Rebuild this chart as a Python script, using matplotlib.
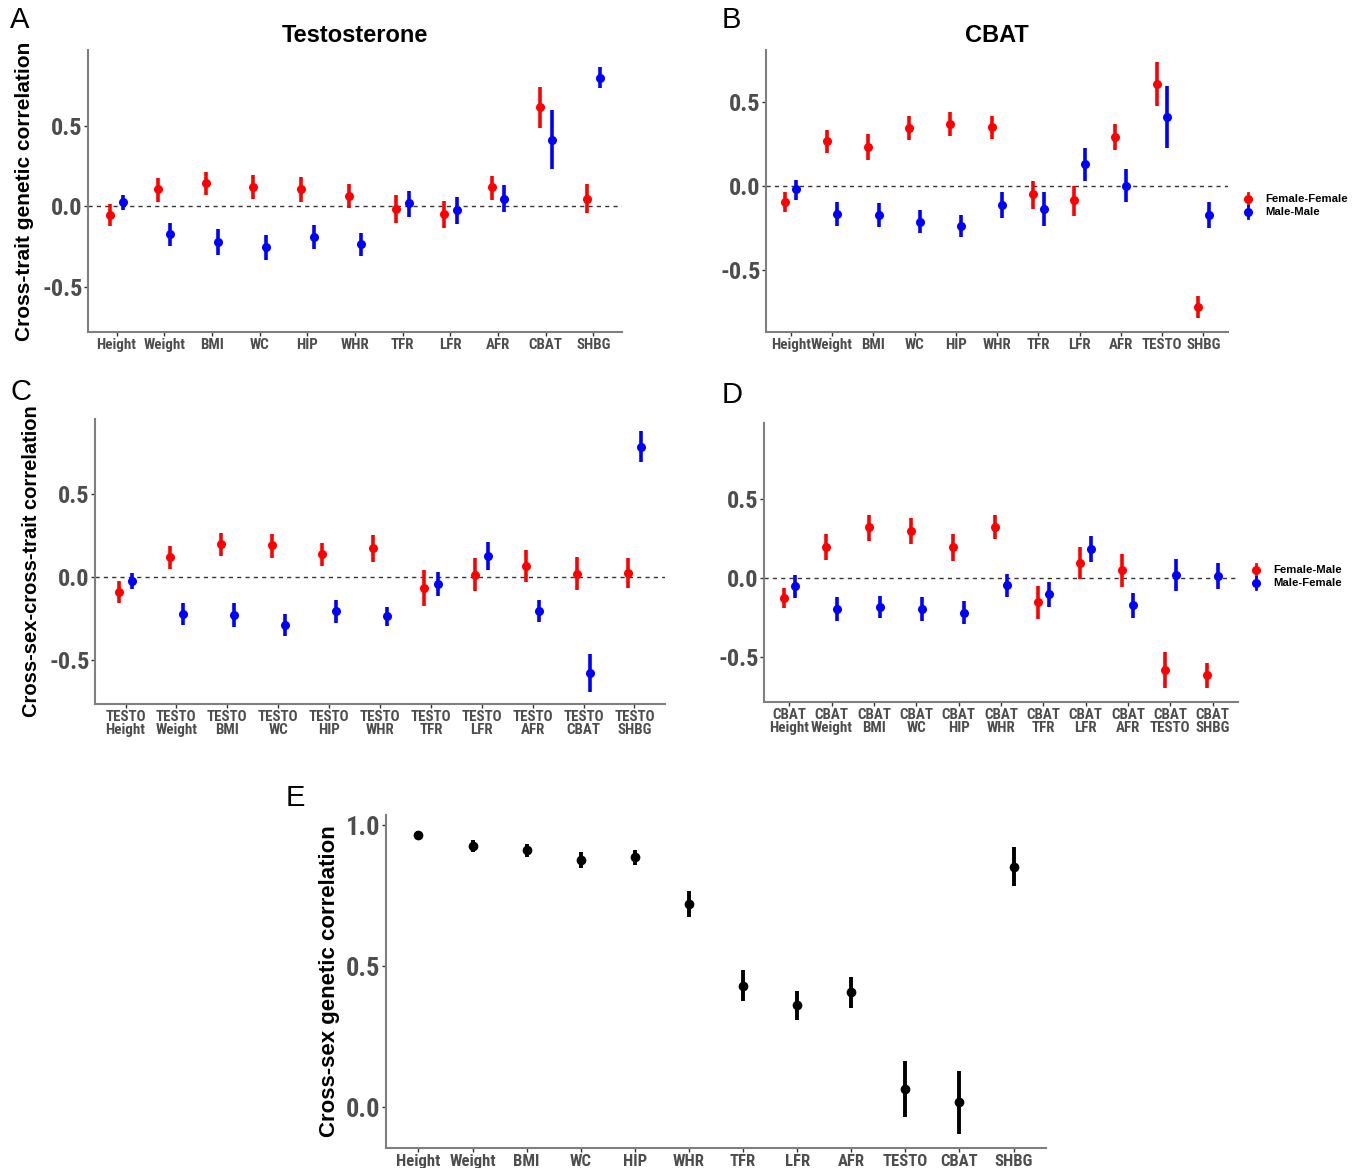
import matplotlib
matplotlib.use("Agg")
import matplotlib.pyplot as plt
from matplotlib.lines import Line2D
import numpy as np
import logging
logging.getLogger("matplotlib.font_manager").setLevel(logging.ERROR)

plt.rcParams["axes.unicode_minus"] = False

# ---------------- data ----------------
cats_A = ["Height", "Weight", "BMI", "WC", "HIP", "WHR", "TFR", "LFR", "AFR", "CBAT", "SHBG"]
A_ff = [-0.052, 0.105, 0.142, 0.121, 0.105, 0.063, -0.017, -0.050, 0.117, 0.615, 0.048]
A_ff_lo = [-0.123, 0.029, 0.071, 0.048, 0.029, -0.013, -0.103, -0.136, 0.042, 0.483, -0.042]
A_ff_hi = [0.013, 0.178, 0.211, 0.195, 0.180, 0.138, 0.069, 0.036, 0.190, 0.743, 0.136]
A_mm = [0.027, -0.174, -0.220, -0.253, -0.190, -0.236, 0.019, -0.023, 0.048, 0.414, 0.797]
A_mm_lo = [-0.021, -0.245, -0.303, -0.335, -0.268, -0.310, -0.065, -0.109, -0.036, 0.230, 0.732]
A_mm_hi = [0.073, -0.103, -0.140, -0.176, -0.113, -0.165, 0.098, 0.059, 0.134, 0.600, 0.862]

cats_B = ["Height", "Weight", "BMI", "WC", "HIP", "WHR", "TFR", "LFR", "AFR", "TESTO", "SHBG"]
B_ff = [-0.094, 0.268, 0.234, 0.346, 0.372, 0.352, -0.050, -0.086, 0.294, 0.612, -0.724]
B_ff_lo = [-0.158, 0.196, 0.156, 0.274, 0.300, 0.284, -0.136, -0.178, 0.216, 0.480, -0.792]
B_ff_hi = [-0.038, 0.336, 0.310, 0.420, 0.440, 0.420, 0.032, 0.000, 0.370, 0.744, -0.656]
B_mm = [-0.020, -0.166, -0.174, -0.214, -0.238, -0.112, -0.138, 0.130, 0.002, 0.414, -0.174]
B_mm_lo = [-0.084, -0.238, -0.246, -0.280, -0.308, -0.192, -0.238, 0.032, -0.096, 0.228, -0.252]
B_mm_hi = [0.038, -0.096, -0.102, -0.146, -0.172, -0.034, -0.038, 0.226, 0.102, 0.598, -0.096]

cats_C = ["TESTO\nHeight", "TESTO\nWeight", "TESTO\nBMI", "TESTO\nWC", "TESTO\nHIP", "TESTO\nWHR",
          "TESTO\nTFR", "TESTO\nLFR", "TESTO\nAFR", "TESTO\nCBAT", "TESTO\nSHBG"]
C_fm = [-0.088, 0.122, 0.199, 0.191, 0.139, 0.175, -0.062, 0.016, 0.068, 0.022, 0.028]
C_fm_lo = [-0.157, 0.052, 0.129, 0.118, 0.068, 0.094, -0.171, -0.086, -0.026, -0.080, -0.064]
C_fm_hi = [-0.024, 0.190, 0.269, 0.261, 0.207, 0.255, 0.046, 0.114, 0.161, 0.120, 0.118]
C_mf = [-0.020, -0.221, -0.227, -0.285, -0.203, -0.235, -0.038, 0.129, -0.203, -0.574, 0.785]
C_mf_lo = [-0.070, -0.287, -0.299, -0.353, -0.273, -0.295, -0.112, 0.044, -0.271, -0.689, 0.693]
C_mf_hi = [0.028, -0.157, -0.157, -0.219, -0.135, -0.177, 0.034, 0.211, -0.137, -0.460, 0.878]

cats_D = ["CBAT\nHeight", "CBAT\nWeight", "CBAT\nBMI", "CBAT\nWC", "CBAT\nHIP", "CBAT\nWHR",
          "CBAT\nTFR", "CBAT\nLFR", "CBAT\nAFR", "CBAT\nTESTO", "CBAT\nSHBG"]
D_fm = [-0.124, 0.198, 0.321, 0.300, 0.196, 0.325, -0.154, 0.095, 0.049, -0.580, -0.616]
D_fm_lo = [-0.190, 0.114, 0.234, 0.215, 0.110, 0.245, -0.259, -0.006, -0.055, -0.696, -0.698]
D_fm_hi = [-0.061, 0.281, 0.401, 0.382, 0.281, 0.401, -0.051, 0.198, 0.152, -0.468, -0.538]
D_mf = [-0.051, -0.196, -0.181, -0.196, -0.219, -0.046, -0.103, 0.186, -0.173, 0.021, 0.013]
D_mf_lo = [-0.124, -0.270, -0.253, -0.270, -0.293, -0.122, -0.186, 0.099, -0.253, -0.080, -0.072]
D_mf_hi = [0.021, -0.122, -0.112, -0.122, -0.148, 0.027, -0.025, 0.268, -0.095, 0.120, 0.093]

cats_E = ["Height", "Weight", "BMI", "WC", "HIP", "WHR", "TFR", "LFR", "AFR", "TESTO", "CBAT", "SHBG"]
E_rg = [0.965, 0.925, 0.911, 0.876, 0.886, 0.721, 0.431, 0.361, 0.407, 0.064, 0.018, 0.853]
E_lo = [0.952, 0.904, 0.888, 0.847, 0.859, 0.675, 0.378, 0.309, 0.351, -0.036, -0.094, 0.784]
E_hi = [0.978, 0.946, 0.932, 0.904, 0.911, 0.767, 0.485, 0.413, 0.461, 0.162, 0.129, 0.921]

# ---------------- style ----------------
RED = "#FF0000"
BLUE = "#0000FF"
GREY = "#4D4D4D"
NARROW = ["Liberation Sans Narrow", "Roboto Condensed", "Arial Narrow", "Liberation Sans", "DejaVu Sans"]
SANS = ["Liberation Sans", "DejaVu Sans"]

W, H = 1360, 1168
fig = plt.figure(figsize=(W / 100, H / 100), dpi=100)


def add_axes(left, top, right, bottom):
    return fig.add_axes([left / W, 1 - bottom / H, (right - left) / W, (bottom - top) / H])


def style(ax, cats, ylim, ytick_size=17.5, xtick_size=10.8):
    n = len(cats)
    ax.set_xlim(0.4, n + 0.6)
    ax.set_ylim(*ylim)
    for s in ["top", "right"]:
        ax.spines[s].set_visible(False)
    for s in ["left", "bottom"]:
        ax.spines[s].set_color("#7F7F7F")
        ax.spines[s].set_linewidth(1.5)
    ax.set_xticks(np.arange(1, n + 1))
    ax.set_xticklabels(cats, fontfamily=NARROW, fontweight="bold", fontsize=xtick_size,
                       color=GREY, linespacing=0.9)
    ax.tick_params(axis="both", colors="#333333", length=3, width=1)
    ax.tick_params(axis="x", pad=1.5, labelcolor=GREY)
    ax.tick_params(axis="y", pad=1, labelcolor=GREY)
    for lab in ax.get_yticklabels():
        lab.set_fontfamily(NARROW)
        lab.set_fontweight("bold")
        lab.set_fontsize(ytick_size)
    ax.axhline(0, color="#333333", lw=1.0, ls=(0, (3, 3)), zorder=1)


def pointrange(ax, x, y, lo, hi, color, lw=2.6, ms=6.5):
    x = np.asarray(x, dtype=float)
    ax.vlines(x, lo, hi, color=color, lw=lw, zorder=3)
    ax.plot(x, y, "o", color=color, ms=ms, zorder=4, markeredgewidth=0)


def two_series(ax, cats, s1, s1lo, s1hi, s2, s2lo, s2hi, off=0.13):
    x = np.arange(1, len(cats) + 1)
    pointrange(ax, x - off, s1, s1lo, s1hi, RED)
    pointrange(ax, x + off, s2, s2lo, s2hi, BLUE)


def add_legend(x, y, labels):
    ys = [y, y + 13]
    for yy, lab, c in zip(ys, labels, [RED, BLUE]):
        fig.lines.append(Line2D([x / W, x / W], [1 - (yy - 6) / H, 1 - (yy + 6) / H],
                                transform=fig.transFigure, color=c, lw=2))
        fig.lines.append(Line2D([x / W], [1 - yy / H], transform=fig.transFigure,
                                color=c, marker="o", ms=5.5, lw=0))
        fig.text((x + 17) / W, 1 - yy / H, lab, fontfamily=SANS, fontweight="bold",
                 fontsize=8.2, va="center", ha="left", color="black")


def panel_letter(x, y, s):
    fig.text(x / W, 1 - y / H, s, fontfamily=SANS, fontsize=21, va="center", ha="left")


# ---------------- panel A ----------------
axA = add_axes(88, 50, 622, 332)
two_series(axA, cats_A, A_ff, A_ff_lo, A_ff_hi, A_mm, A_mm_lo, A_mm_hi)
axA.set_yticks([-0.5, 0.0, 0.5])
style(axA, cats_A, (-0.78, 0.97))
axA.set_ylabel("Cross-trait genetic correlation", labelpad=6, fontfamily=SANS,
               fontweight="bold", fontsize=15, color="black")
axA.set_title("Testosterone", fontfamily=SANS, fontweight="bold", fontsize=17, pad=6)
panel_letter(10, 20, "A")

# ---------------- panel B ----------------
axB = add_axes(766, 50, 1228, 332)
two_series(axB, cats_B, B_ff, B_ff_lo, B_ff_hi, B_mm, B_mm_lo, B_mm_hi)
axB.set_yticks([-0.5, 0.0, 0.5])
style(axB, cats_B, (-0.874, 0.814))
axB.set_title("CBAT", fontfamily=SANS, fontweight="bold", fontsize=17, pad=6)
panel_letter(722, 20, "B")
add_legend(1248, 199, ["Female-Female", "Male-Male"])

# ---------------- panel C ----------------
axC = add_axes(95, 419, 665, 704)
two_series(axC, cats_C, C_fm, C_fm_lo, C_fm_hi, C_mf, C_mf_lo, C_mf_hi)
axC.set_yticks([-0.5, 0.0, 0.5])
style(axC, cats_C, (-0.763, 0.952))
axC.set_ylabel("Cross-sex-cross-trait correlation", labelpad=6, fontfamily=SANS,
               fontweight="bold", fontsize=14.5, color="black")
panel_letter(10, 392, "C")

# ---------------- panel D ----------------
axD = add_axes(764, 423, 1238, 702)
two_series(axD, cats_D, D_fm, D_fm_lo, D_fm_hi, D_mf, D_mf_lo, D_mf_hi)
axD.set_yticks([-0.5, 0.0, 0.5])
style(axD, cats_D, (-0.785, 0.981))
panel_letter(722, 395, "D")
add_legend(1256, 570, ["Female-Male", "Male-Female"])

# ---------------- panel E ----------------
axE = add_axes(386, 815, 1046, 1148)
xE = np.arange(1, len(cats_E) + 1)
pointrange(axE, xE, E_rg, E_lo, E_hi, "black", lw=2.8, ms=7)
axE.set_yticks([0.0, 0.5, 1.0])
style(axE, cats_E, (-0.145, 1.036), ytick_size=19, xtick_size=12)
axE.lines[-1].remove()  # no zero reference line in panel E
axE.set_ylabel("Cross-sex genetic correlation", labelpad=4,
               fontfamily=SANS, fontweight="bold", fontsize=16, color="black")
panel_letter(286, 798, "E")

fig.savefig("out.png", dpi=100, facecolor="white")
